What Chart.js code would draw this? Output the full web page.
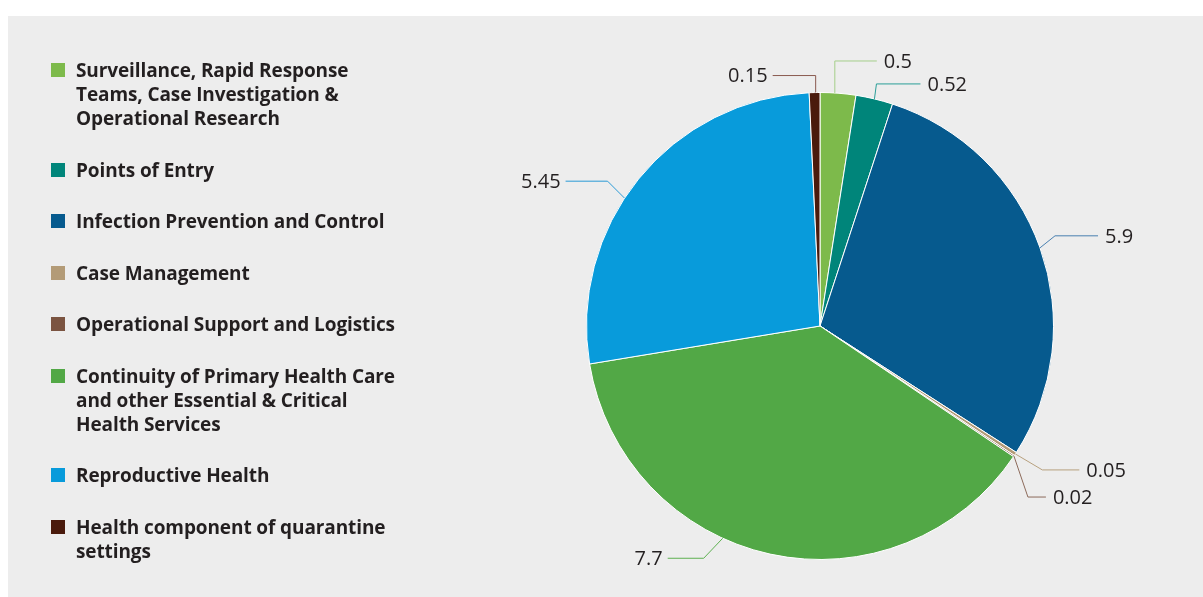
<!DOCTYPE html>
<html>
<head>
<meta charset="utf-8">
<script src="https://cdn.jsdelivr.net/npm/chart.js@4.4.0/dist/chart.umd.min.js"></script>
<style>
  html, body { margin: 0; padding: 0; background: #fff; }
  #wrap { position: relative; width: 1203px; height: 597px; }
  #panel { position: absolute; left: 8px; top: 16px; right: 0; bottom: 0; background: #ededed; }
  #chart { position: absolute; left: 0; top: 0; }
  #legend { position: absolute; left: 51px; top: 58px; margin: 0; padding: 0; list-style: none;
    font-family: "Open Sans", sans-serif; font-weight: 700; font-size: 19px; line-height: 24px;
    letter-spacing: -0.1px; color: #231f20; }
  #legend li { position: relative; padding-left: 25px; margin-bottom: 27.5px; white-space: pre; }
  #legend li span { position: absolute; left: 0; top: 5px; width: 14px; height: 14px; }
</style>
</head>
<body>
<div id="wrap">
  <div id="panel"></div>
  <canvas id="chart" width="1203" height="597"></canvas>
  <ul id="legend"></ul>
</div>
<script>
const categories = [
  ["Surveillance, Rapid Response", "Teams, Case Investigation &", "Operational Research"],
  ["Points of Entry"],
  ["Infection Prevention and Control"],
  ["Case Management"],
  ["Operational Support and Logistics"],
  ["Continuity of Primary Health Care", "and other Essential & Critical", "Health Services"],
  ["Reproductive Health"],
  ["Health component of quarantine", "settings"]
];
const values = [0.5, 0.52, 5.9, 0.05, 0.02, 7.7, 5.45, 0.15];
const sliceColors = ["#7dba4b", "#00857a", "#065a8e", "#b39b77", "#7b5441", "#52a846", "#089bdb", "#4a1a0c"];
const leaderColors = ["#a5cf8a", "#2a9e98", "#4a80b0", "#b7a07e", "#8c6a5a", "#5db050", "#2a9ad6", "#8a5a50"];

// where each leader leaves its slice (0..1 across the arc), its bend and its horizontal run
const leaderAt = [0.41, 0.5, 0.5, 0.5, 0.5, 0.59, 0.44, 0.6];
const leaderBend = [[0, -32], [2, -15], [15, -12], [27, 16], [14, 41], [-19, 20], [-17, -17], [0, -17]];
const leaderRun = [42, 44, 43, 37, 18, -36, -42, -43];

const legend = document.getElementById("legend");
categories.forEach((lines, i) => {
  const li = document.createElement("li");
  const box = document.createElement("span");
  box.style.background = sliceColors[i];
  li.appendChild(box);
  li.appendChild(document.createTextNode(lines.join("\n")));
  legend.appendChild(li);
});

const leaderLabels = {
  id: "leaderLabels",
  afterDatasetsDraw(chart) {
    const ctx = chart.ctx;
    const arcs = chart.getDatasetMeta(0).data;
    ctx.save();
    ctx.lineWidth = 1;
    ctx.font = "20px 'Open Sans', sans-serif";
    ctx.fillStyle = "#231f20";
    ctx.textBaseline = "middle";
    arcs.forEach((arc, i) => {
      const a = arc.startAngle + (arc.endAngle - arc.startAngle) * leaderAt[i];
      const r = arc.outerRadius;
      const x0 = arc.x + r * Math.cos(a);
      const y0 = arc.y + r * Math.sin(a);
      const x1 = x0 + leaderBend[i][0];
      const y1 = y0 + leaderBend[i][1];
      const x2 = x1 + leaderRun[i];
      ctx.strokeStyle = leaderColors[i];
      ctx.beginPath();
      ctx.moveTo(x0, y0);
      ctx.lineTo(x1, y1);
      ctx.lineTo(x2, y1);
      ctx.stroke();
      const right = leaderRun[i] > 0;
      ctx.textAlign = right ? "left" : "right";
      ctx.fillText(String(values[i]), x2 + (right ? 7 : -5), y1 + 1);
    });
    ctx.restore();
  }
};

new Chart(document.getElementById("chart"), {
  type: "pie",
  data: {
    labels: categories,
    datasets: [{
      data: values,
      backgroundColor: sliceColors,
      borderColor: "#ffffff",
      borderWidth: 1
    }]
  },
  options: {
    responsive: false,
    animation: false,
    layout: { padding: { left: 586, right: 149, top: 92, bottom: 37 } },
    plugins: {
      legend: { display: false },
      tooltip: { enabled: false }
    }
  },
  plugins: [leaderLabels]
});
</script>
</body>
</html>
